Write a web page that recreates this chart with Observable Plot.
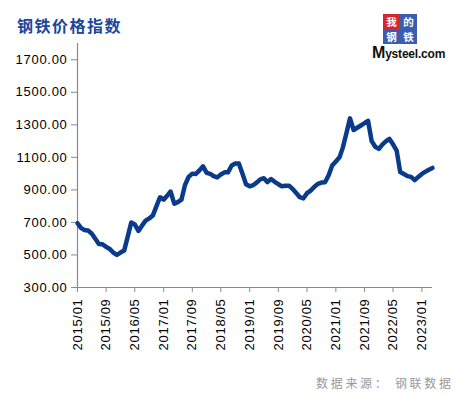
<!DOCTYPE html>
<html><head><meta charset="utf-8">
<script src="https://cdn.jsdelivr.net/npm/d3@7"></script>
<script src="https://cdn.jsdelivr.net/npm/@observablehq/plot@0.6"></script>
<style>
html,body{margin:0;padding:0;background:#fff;}
#wrap{position:relative;width:463px;height:397px;overflow:hidden;}
#title{position:absolute;left:17px;top:13px;font:bold 16px "Noto Sans CJK SC";letter-spacing:1.5px;color:#17479e;white-space:nowrap;}
#caption{position:absolute;left:316px;top:374px;font:12px "Noto Sans CJK SC";letter-spacing:2.7px;color:#9a9a9a;white-space:nowrap;}
#logo{position:absolute;left:372px;top:13px;width:80px;height:50px;}
.bx{position:absolute;width:17px;height:15px;overflow:hidden;}
.bx span{display:block;color:#fff;font:bold 10.5px/15px "Noto Sans CJK SC";text-align:center;}
#ms{position:absolute;left:0px;top:31px;font:bold 12px "Liberation Sans";color:#111;white-space:nowrap;letter-spacing:-0.2px;}
#ms b{font-size:16px;}
svg text{letter-spacing:0.7px;}
</style></head>
<body><div id="wrap">
<div id="chart"></div>
<div id="title">钢铁价格指数</div>
<div id="logo">
  <div class="bx" style="left:11px;top:1px;background:#d8262d"><span>我</span></div>
  <div class="bx" style="left:28px;top:1px;background:#3b5db0"><span>的</span></div>
  <div class="bx" style="left:11px;top:16px;background:#3b5db0"><span>钢</span></div>
  <div class="bx" style="left:28px;top:16px;background:#3b5db0"><span>铁</span></div>
  <div id="ms"><b>M</b>ysteel.com</div>
</div>
<div id="caption">数据来源： 钢联数据</div>
</div>
<script>
const startMonth = "2015-01";
const values = [
 695,665,654,650,632,600,568,566,550,537,515,500,
 515,527,610,700,688,648,680,711,725,742,800,855,
 840,865,890,815,825,840,930,980,1000,998,1020,1045,
 1005,998,985,977,995,1008,1008,1050,1062,1063,1000,935,
 922,930,945,965,972,948,967,950,935,922,926,926,
 905,880,855,848,880,896,918,937,945,947,990,1050,
 1075,1100,1160,1250,1340,1268,1282,1296,1310,1325,1200,1165,
 1152,1180,1198,1213,1180,1141,1010,998,985,980,960,980,
 998,1012,1024,1035
];
const xTickLabels = ["2015/01","2015/09","2016/05","2017/01","2017/09","2018/05","2019/01","2019/09","2020/05","2021/01","2021/09","2022/05","2023/01"];
const yTicks = [300,500,700,900,1100,1300,1500,1700];

const parseM = d3.utcParse("%Y-%m");
const parseT = d3.utcParse("%Y/%m");
const t0 = parseM(startMonth);
const data = values.map((v,i)=>({date: d3.utcMonth.offset(t0,i), value: v}));
const xTicks = xTickLabels.map(parseT);
const x0 = data[0].date, x1 = data[data.length-1].date;

const chart = Plot.plot({
  width: 463, height: 397,
  marginLeft: 77, marginRight: 31, marginTop: 43, marginBottom: 110,
  style: {fontFamily: "Liberation Sans", fontSize: "13px", color: "#000", background: "#fff"},
  x: {type: "utc", domain: [x0, x1]},
  y: {domain: [300, 1800]},
  marks: [
    Plot.ruleX([x0], {stroke: "#8a8a8a", strokeWidth: 1.2}),
    Plot.ruleY([300], {stroke: "#8a8a8a", strokeWidth: 1.2}),
    Plot.axisY({ticks: yTicks, tickSize: 6, tickPadding: 4, tickFormat: d3.format(".2f"), stroke: "#8a8a8a", fill: "#000", label: null}),
    Plot.axisX({ticks: xTicks, tickSize: 5, tickPadding: 6, tickRotate: -90, tickFormat: d3.utcFormat("%Y/%m"), stroke: "#8a8a8a", fill: "#000", label: null}),
    Plot.line(data, {x: "date", y: "value", stroke: "#0a3b8a", strokeWidth: 4.5, strokeLinejoin: "round", strokeLinecap: "round"})
  ]
});
document.getElementById("chart").appendChild(chart);
</script>
</body></html>
